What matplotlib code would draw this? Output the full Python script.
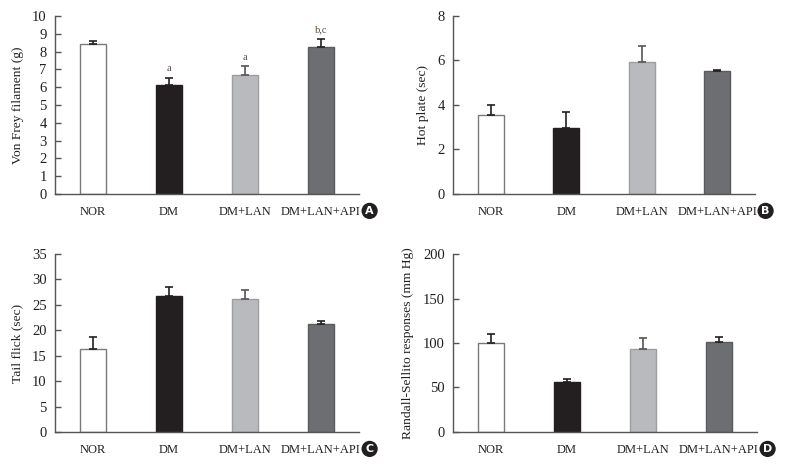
import matplotlib
matplotlib.use("Agg")
import matplotlib.pyplot as plt
import numpy as np

plt.rcParams['font.family'] = ['Liberation Serif', 'DejaVu Serif']

groups = ["NOR", "DM", "DM+LAN", "DM+LAN+API"]

vonfrey = [8.41, 6.12, 6.70, 8.28]
vonfrey_err = [0.20, 0.40, 0.47, 0.45]
vonfrey_sig = ["", "a", "a", "b,c"]

hotplate = [3.54, 2.95, 5.92, 5.54]
hotplate_err = [0.45, 0.72, 0.75, 0.05]

tailflick = [16.3, 26.8, 26.2, 21.2]
tailflick_err = [2.3, 1.8, 1.8, 0.6]

randall = [100.0, 56.6, 93.6, 101.1]
randall_err = [10.0, 2.6, 12.0, 5.6]

bar_colors = ["#ffffff", "#231f20", "#b9babd", "#6d6e71"]
edge_colors = ["#7a7a7a", "#231f20", "#9d9ea1", "#5a5b5e"]
err_colors = ["#231f20", "#231f20", "#555555", "#231f20"]

panels = [
    dict(pos=[0.0696, 0.5864, 0.3848, 0.3795], vals=vonfrey, err=vonfrey_err,
         ylim=(0, 10), yticks=np.arange(0, 11, 1), ylabel="Von Frey filament (g)",
         letter="A", sig=vonfrey_sig),
    dict(pos=[0.5734, 0.5864, 0.3823, 0.3795], vals=hotplate, err=hotplate_err,
         ylim=(0, 8), yticks=np.arange(0, 9, 2), ylabel="Hot plate (sec)",
         letter="B", sig=None),
    dict(pos=[0.0696, 0.0789, 0.3848, 0.3795], vals=tailflick, err=tailflick_err,
         ylim=(0, 35), yticks=np.arange(0, 36, 5), ylabel="Tail flick (sec)",
         letter="C", sig=None),
    dict(pos=[0.5734, 0.0789, 0.3848, 0.3795], vals=randall, err=randall_err,
         ylim=(0, 200), yticks=np.arange(0, 201, 50), ylabel="Randall-Sellito responses (mm Hg)",
         letter="D", sig=None),
]

fig = plt.figure(figsize=(7.90, 4.69), dpi=100)
x = np.arange(len(groups))
for p in panels:
    ax = fig.add_axes(p["pos"])
    for i in range(len(groups)):
        ax.bar(x[i], p["vals"][i], width=0.35, color=bar_colors[i],
               edgecolor=edge_colors[i], linewidth=1.0, zorder=2)
        ax.errorbar(x[i], p["vals"][i], yerr=[[0], [p["err"][i]]], fmt="none",
                    ecolor=err_colors[i], elinewidth=1.2, capsize=3, capthick=1.2, zorder=3)
    if p["sig"]:
        rng = p["ylim"][1] - p["ylim"][0]
        for i, s in enumerate(p["sig"]):
            if s:
                ax.text(x[i], p["vals"][i] + p["err"][i] + 0.025 * rng, s,
                        ha="center", va="bottom", fontsize=7.5, color="#5a4a3a")
    ax.set_xlim(-0.5, 3.5)
    ax.set_ylim(*p["ylim"])
    ax.set_yticks(p["yticks"])
    ax.set_xticks(x)
    ax.set_xticklabels(groups, fontsize=9, color="#231f20")
    ax.tick_params(axis="x", length=0, pad=9)
    ax.tick_params(axis="y", direction="in", length=4, width=1, color="#555555",
                   labelsize=10.5, labelcolor="#231f20", pad=6)
    for s in ["top", "right"]:
        ax.spines[s].set_visible(False)
    for s in ["left", "bottom"]:
        ax.spines[s].set_color("#555555")
        ax.spines[s].set_linewidth(1.0)
    ax.set_ylabel(p["ylabel"], fontsize=9.7, color="#231f20", labelpad=6)
    ax.text(1.035, -0.095, p["letter"], transform=ax.transAxes, ha="center", va="center",
            fontsize=8, fontweight="bold", color="white", family="DejaVu Sans",
            bbox=dict(boxstyle="circle,pad=0.28", fc="#231f20", ec="none"))

fig.savefig("out.png", dpi=100)
